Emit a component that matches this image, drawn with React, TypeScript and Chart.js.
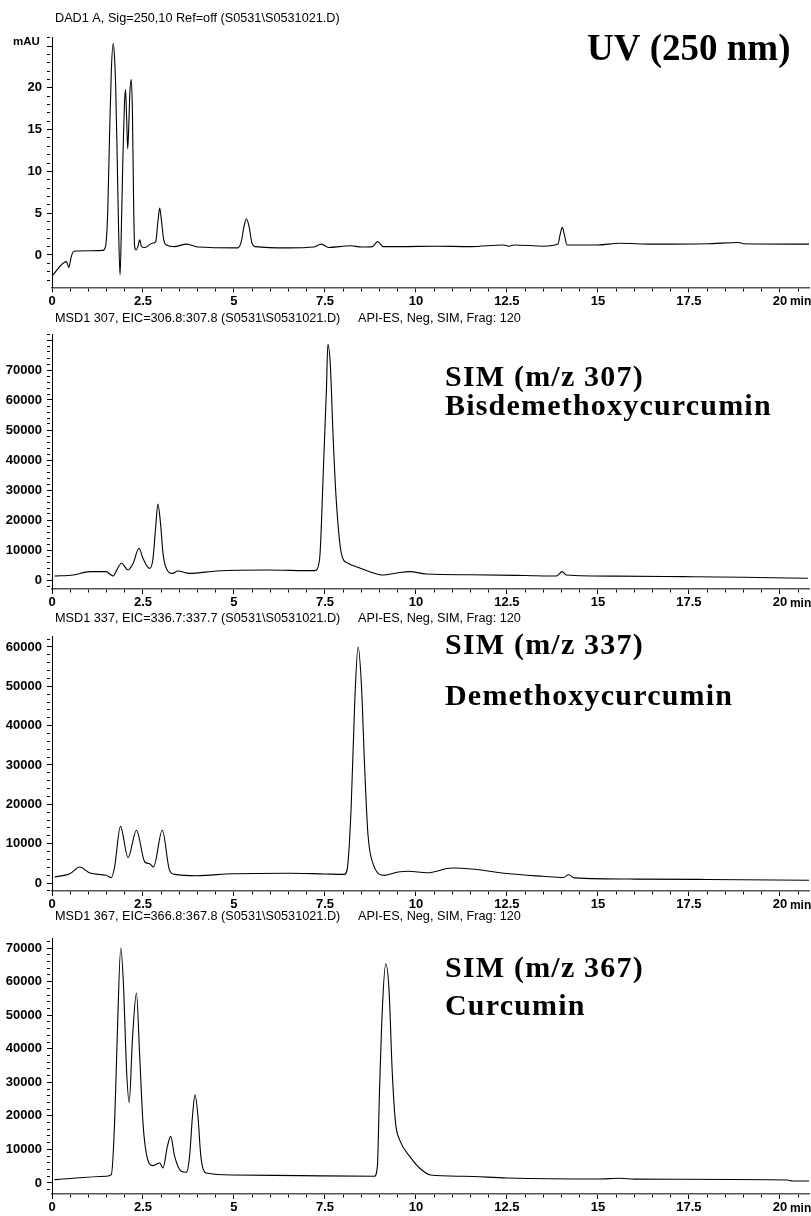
import React, { useEffect, useRef } from 'react';
import { Chart, registerables } from 'chart.js';

Chart.register(...registerables);

// ---------------- data ----------------
// Retention time axis (min)
const xMin = 0;
const xMax = 20.8;
const xMinorStep = 0.5;
const xMajorStep = 2.5;

// UV 250 nm trace (mAU)
const uvTime = [0.0, 0.4, 0.46, 0.53, 0.6, 1.0, 1.4, 1.47, 1.53, 1.58, 1.63, 1.68, 1.72, 1.75, 1.79, 1.83, 1.87, 1.91, 1.95, 1.99, 2.02, 2.05, 2.08, 2.11, 2.14, 2.18, 2.21, 2.24, 2.27, 2.31, 2.36, 2.41, 2.46, 2.55, 2.75, 2.85, 2.91, 2.96, 3.01, 3.07, 3.15, 3.35, 3.7, 4.0, 5.1, 5.2, 5.28, 5.34, 5.41, 5.49, 5.58, 6.5, 7.2, 7.4, 7.6, 8.2, 8.5, 8.8, 8.95, 9.1, 9.6, 10.5, 11.5, 12.4, 12.55, 12.7, 13.5, 13.9, 13.97, 14.02, 14.08, 14.15, 15.0, 15.6, 16.5, 18.0, 18.87, 19.0, 20.8];
const uvMAU = [-2.5, -0.8, -1.5, -0.2, 0.45, 0.5, 0.55, 1.0, 5, 14, 22, 25.3, 23.5, 20, 12, 3, -2.4, 4, 12, 18, 19.8, 16.5, 12.7, 15.5, 19.5, 21, 17, 7, 1.0, 0.6, 1.0, 1.8, 1.0, 0.9, 1.4, 1.6, 4.0, 5.6, 4.0, 1.8, 1.2, 1.0, 1.3, 0.95, 0.85, 1.6, 3.5, 4.3, 3.5, 1.5, 1.0, 0.85, 0.95, 1.3, 0.9, 1.1, 0.95, 1.0, 1.6, 1.0, 1.0, 1.05, 1.0, 1.2, 1.05, 1.2, 1.05, 1.3, 2.6, 3.3, 2.4, 1.2, 1.2, 1.4, 1.3, 1.35, 1.5, 1.35, 1.3];

// SIM m/z 307 (Bisdemethoxycurcumin)
const sim307Time = [0.07, 0.58, 1.04, 1.49, 1.585, 1.68, 1.77, 1.91, 2.09, 2.23, 2.39, 2.5, 2.68, 2.77, 2.85, 2.91, 2.99, 3.05, 3.14, 3.31, 3.46, 3.78, 4.52, 5.89, 7.22, 7.35, 7.46, 7.54, 7.58, 7.65, 7.72, 7.81, 7.95, 8.13, 8.36, 8.73, 9.09, 9.51, 9.83, 10.29, 11.5, 13.0, 13.86, 14.02, 14.13, 15.5, 17.34, 19.0, 20.77];
const sim307Abund = [1330, 1670, 2780, 2780, 2000, 1330, 3110, 5560, 3330, 5560, 10560, 7220, 3890, 6670, 17800, 25330, 17800, 8890, 3890, 2220, 3000, 2220, 3000, 3330, 3110, 6670, 37800, 63300, 78560, 71100, 48900, 26700, 8890, 5560, 4440, 2780, 1670, 2440, 2780, 2000, 1750, 1500, 1330, 2780, 1670, 1300, 1110, 900, 560];

// SIM m/z 337 (Demethoxycurcumin)
const sim337Time = [0.07, 0.49, 0.76, 1.04, 1.49, 1.63, 1.72, 1.88, 2.09, 2.32, 2.55, 2.68, 2.79, 3.03, 3.23, 3.37, 3.97, 4.97, 6.5, 7.5, 8.04, 8.13, 8.22, 8.32, 8.41, 8.5, 8.59, 8.68, 8.82, 9.14, 9.51, 9.8, 10.3, 11.0, 11.6, 12.5, 13.5, 14.05, 14.2, 14.35, 16.0, 18.0, 20.8];
const sim337Abund = [1525, 2370, 4070, 2540, 1950, 1360, 4070, 14400, 6440, 13400, 5340, 4920, 4070, 13400, 3220, 2200, 1860, 2370, 2500, 2300, 2200, 4920, 19300, 46400, 60000, 50700, 29500, 12500, 4920, 1950, 2800, 3000, 2600, 3800, 3500, 2400, 1700, 1400, 2100, 1300, 1000, 900, 700];

// SIM m/z 367 (Curcumin)
const sim367Time = [0.07, 1.49, 1.63, 1.72, 1.79, 1.89, 1.97, 2.04, 2.12, 2.21, 2.32, 2.41, 2.5, 2.59, 2.77, 2.96, 3.05, 3.17, 3.26, 3.37, 3.55, 3.69, 3.78, 3.86, 3.93, 4.01, 4.09, 4.24, 4.97, 6.8, 8.86, 8.94, 9.0, 9.08, 9.17, 9.26, 9.35, 9.44, 9.55, 9.84, 10.1, 10.4, 11.3, 12.5, 15.0, 15.6, 16.0, 20.2, 20.35, 20.8];
const sim367Abund = [990, 1990, 2480, 17900, 42700, 70000, 57600, 35700, 24000, 42700, 56600, 37700, 17900, 8900, 5160, 5960, 4470, 10900, 13900, 7940, 3480, 3180, 7940, 19900, 26300, 19900, 7940, 2980, 2380, 2180, 1990, 4970, 27800, 52600, 65300, 57600, 32800, 17900, 12900, 7800, 4460, 2380, 2000, 1500, 1200, 1400, 1150, 900, 600, 600];

// Headers and labels
const headerLeft = [
  'DAD1 A, Sig=250,10 Ref=off (S0531\\S0531021.D)',
  'MSD1 307, EIC=306.8:307.8 (S0531\\S0531021.D)',
  'MSD1 337, EIC=336.7:337.7 (S0531\\S0531021.D)',
  'MSD1 367, EIC=366.8:367.8 (S0531\\S0531021.D)',
];
const headerRight = ['', 'API-ES, Neg, SIM, Frag: 120', 'API-ES, Neg, SIM, Frag: 120', 'API-ES, Neg, SIM, Frag: 120'];
const bigLabels = [['UV (250 nm)'], ['SIM (m/z 307)', 'Bisdemethoxycurcumin'], ['SIM (m/z 337)', 'Demethoxycurcumin'], ['SIM (m/z 367)', 'Curcumin']];
const yUnit = ['mAU', '', '', ''];

// y ranges and steps
const yMins = [-3.87, -3000, -2030, -3280];
const yMaxs = [26.0, 82000, 62600, 72900];
const yMinorSteps = [1, 2000, 2000, 2000];
const yMajorSteps = [5, 10000, 10000, 10000];
const yLabelMax = [20, 70000, 60000, 70000];

// ---------------- layout (page pixels) ----------------
const layouts = [
  { top: 0, height: 311, padTop: 37.7, xAxisH: 23.7, headerY: 22, bigX: 587, bigY: [60], bigSize: 37, spacing: 0 },
  { top: 305, height: 308, padTop: 29, xAxisH: 24, headerY: 17, bigX: 445, bigY: [81, 110], bigSize: 30, spacing: 1.2 },
  { top: 605, height: 310, padTop: 31.7, xAxisH: 24, headerY: 17, bigX: 445, bigY: [49, 100], bigSize: 30, spacing: 1.2 },
  { top: 905, height: 311, padTop: 33.3, xAxisH: 22, headerY: 15, bigX: 445, bigY: [72, 110], bigSize: 30, spacing: 1.2 },
];

const series = [
  { t: uvTime, v: uvMAU },
  { t: sim307Time, v: sim307Abund },
  { t: sim337Time, v: sim337Abund },
  { t: sim367Time, v: sim367Abund },
];

const SANS = '"Liberation Sans", Arial, Helvetica, sans-serif';
const SERIF = '"Liberation Serif", "Times New Roman", Times, serif';

function isMult(v: number, step: number) {
  const r = v / step;
  return Math.abs(r - Math.round(r)) < 1e-6;
}

// Ticks at every multiple of the minor step inside the scale range
function stepTicks(step: number) {
  return (scale: any) => {
    const out: { value: number }[] = [];
    const k0 = Math.ceil(scale.min / step - 1e-9);
    const k1 = Math.floor(scale.max / step + 1e-9);
    for (let k = k0; k <= k1; k++) out.push({ value: Number((k * step).toFixed(6)) });
    scale.ticks = out;
  };
}

function makeTextPlugin(i: number) {
  const L = layouts[i];
  return {
    id: 'panelText' + i,
    afterDraw(chart: any) {
      const ctx = chart.ctx as CanvasRenderingContext2D;
      ctx.save();
      ctx.fillStyle = '#000';
      ctx.textAlign = 'left';
      ctx.textBaseline = 'alphabetic';
      ctx.font = '12.7px ' + SANS;
      ctx.fillText(headerLeft[i], 55, L.headerY);
      if (headerRight[i]) ctx.fillText(headerRight[i], 358, L.headerY);
      if (yUnit[i]) {
        ctx.font = 'bold 11.5px ' + SANS;
        ctx.fillText(yUnit[i], 13, 45);
      }
      ctx.font = 'bold ' + L.bigSize + 'px ' + SERIF;
      (ctx as any).letterSpacing = L.spacing + 'px';
      bigLabels[i].forEach((s, k) => ctx.fillText(s, L.bigX, L.bigY[k]));
      (ctx as any).letterSpacing = '0px';
      const xs = chart.scales.x;
      ctx.font = 'bold 12px ' + SANS;
      ctx.textBaseline = 'middle';
      ctx.fillText('min', xs.getPixelForValue(20) + 10, chart.chartArea.bottom + 14.2);
      ctx.restore();
    },
  };
}

function Panel({ i }: { i: number }) {
  const ref = useRef<HTMLCanvasElement>(null);
  const L = layouts[i];
  useEffect(() => {
    const canvas = ref.current as HTMLCanvasElement;
    const s = series[i];
    const chart = new Chart(canvas, {
      type: 'line',
      data: {
        datasets: [
          {
            data: s.t.map((t, k) => ({ x: t, y: s.v[k] })),
            borderColor: '#000',
            borderWidth: 1.1,
            pointRadius: 0,
            fill: false,
            cubicInterpolationMode: 'monotone',
          },
        ],
      },
      options: {
        responsive: false,
        animation: false,
        events: [],
        layout: { padding: { top: L.padTop, bottom: 0, left: 0, right: 2 } },
        plugins: { legend: { display: false }, tooltip: { enabled: false }, title: { display: false } },
        scales: {
          x: {
            type: 'linear',
            position: 'bottom',
            min: xMin,
            max: xMax,
            afterBuildTicks: stepTicks(xMinorStep),
            afterFit: (sc: any) => {
              sc.height = L.xAxisH;
            },
            ticks: {
              autoSkip: false,
              maxRotation: 0,
              minRotation: 0,
              padding: 1,
              color: '#000',
              font: { family: SANS, size: 13, weight: 'bold' },
              callback: (v: any) => (isMult(Number(v), xMajorStep) ? String(v) : ''),
            },
            grid: {
              drawOnChartArea: false,
              drawTicks: true,
              tickLength: 5,
              tickColor: '#000',
              tickWidth: 1,
              tickBorderDash: (c: any) => (c.tick && isMult(c.tick.value, xMajorStep) ? [] : [3, 40]),
            },
            border: { display: true, color: '#555', width: 1.5 },
          },
          y: {
            type: 'linear',
            position: 'left',
            min: yMins[i],
            max: yMaxs[i],
            afterBuildTicks: stepTicks(yMinorSteps[i]),
            afterFit: (sc: any) => {
              sc.width = 52;
            },
            ticks: {
              autoSkip: false,
              padding: 5,
              color: '#000',
              font: { family: SANS, size: 13, weight: 'bold' },
              callback: (v: any) => {
                const n = Number(v);
                return isMult(n, yMajorSteps[i]) && n <= yLabelMax[i] ? String(n) : '';
              },
            },
            grid: {
              drawOnChartArea: false,
              drawTicks: true,
              tickLength: 5,
              tickColor: '#000',
              tickWidth: 1,
              tickBorderDash: (c: any) => (c.tick && isMult(c.tick.value, yMajorSteps[i]) ? [] : [3, 40]),
            },
            border: { display: true, color: '#000', width: 1 },
          },
        },
      } as any,
      plugins: [makeTextPlugin(i)],
    });
    return () => chart.destroy();
  }, []);
  return (
    <canvas
      ref={ref}
      width={811}
      height={L.height}
      style={{ position: 'absolute', left: 0, top: L.top, width: 811, height: L.height, display: 'block' }}
    />
  );
}

export default function App() {
  return (
    <div style={{ position: 'absolute', left: 0, top: 0, width: 811, height: 1216, overflow: 'hidden', background: '#fff' }}>
      {[0, 1, 2, 3].map((i) => (
        <Panel key={i} i={i} />
      ))}
    </div>
  );
}
